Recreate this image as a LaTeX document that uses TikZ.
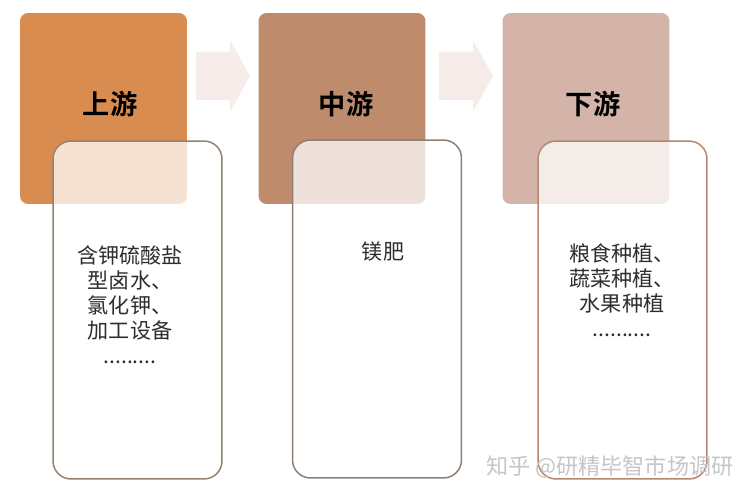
\documentclass[tikz,border=0pt]{standalone}
\usepackage{fontspec}
\setmainfont{Noto Sans CJK SC}[BoldFont={Noto Sans CJK SC Bold}]
\usepackage{xcolor}
\usepackage{tikz}
\usetikzlibrary{shapes,arrows,positioning,calc}

\definecolor{upC}{HTML}{D98C50}
\definecolor{midC}{HTML}{BF8B6D}
\definecolor{downC}{HTML}{D4B4A8}
\definecolor{arrowC}{HTML}{F6ECE9}
\definecolor{lineA}{HTML}{948270}
\definecolor{lineB}{HTML}{8F7F74}
\definecolor{lineC}{HTML}{B5876F}
\definecolor{txtC}{HTML}{2E2E2E}

\tikzset{
	stage/.style={rectangle,rounded corners=0.16cm,minimum width=3.34cm,minimum height=3.82cm,inner sep=0,outer sep=0},
	stagetitle/.style={font=\fontsize{15.5}{18}\selectfont\bfseries,text=black},
	itembox/.style={rectangle,rounded corners=0.36cm,fill=white,fill opacity=0.75,draw opacity=1,line width=0.85pt,minimum width=3.38cm,minimum height=6.76cm,inner sep=0,outer sep=0},
	itemtext/.style={font=\fontsize{12}{14.3}\selectfont,text=txtC,align=center},
	flow/.pic={\fill[arrowC] (-27,-24) -- (7,-24) -- (7,-36) -- (27,0) -- (7,36) -- (7,24) -- (-27,24) -- cycle;},
	wmark/.style={font=\fontsize{12.6}{15}\selectfont,text=gray!45}
}

\begin{document}
\begin{tikzpicture}[x=0.02cm,y=-0.02cm]
	\useasboundingbox (0,0) rectangle (750,500);
	% top squares
	\node[stage,fill=upC] (up) at (103.5,108.5) {};
	\node[stage,fill=midC] (mid) at (342,108.5) {};
	\node[stage,fill=downC] (down) at (586,108.5) {};
	\node[stagetitle] (upT) at (110,104) {上游};
	\node[stagetitle] (midT) at (346,104) {中游};
	\node[stagetitle] (downT) at (593,104) {下游};
	% arrows
	\pic (arrA) at (223,76) {flow};
	\pic (arrB) at (466,76) {flow};
	% lower boxes
	\node[itembox,draw=lineA] (upB) at (137.5,310) {};
	\node[itembox,draw=lineB] (midB) at (377,309) {};
	\node[itembox,draw=lineC] (downB) at (622.5,310) {};
	\node[itemtext,anchor=north] (upL) at (130,239) {含钾硫酸盐\\型卤水、\\氯化钾、\\加工设备\\.........};
	\node[itemtext] (midL) at (383,252) {镁肥};
	\node[itemtext,anchor=north] (downL) at (622,237) {粮食种植、\\蔬菜种植、\\水果种植\\..........};
	% watermark
	\node[wmark,anchor=west] (wm) at (480,467) {知乎 @研精毕智市场调研};
\end{tikzpicture}
\end{document}
